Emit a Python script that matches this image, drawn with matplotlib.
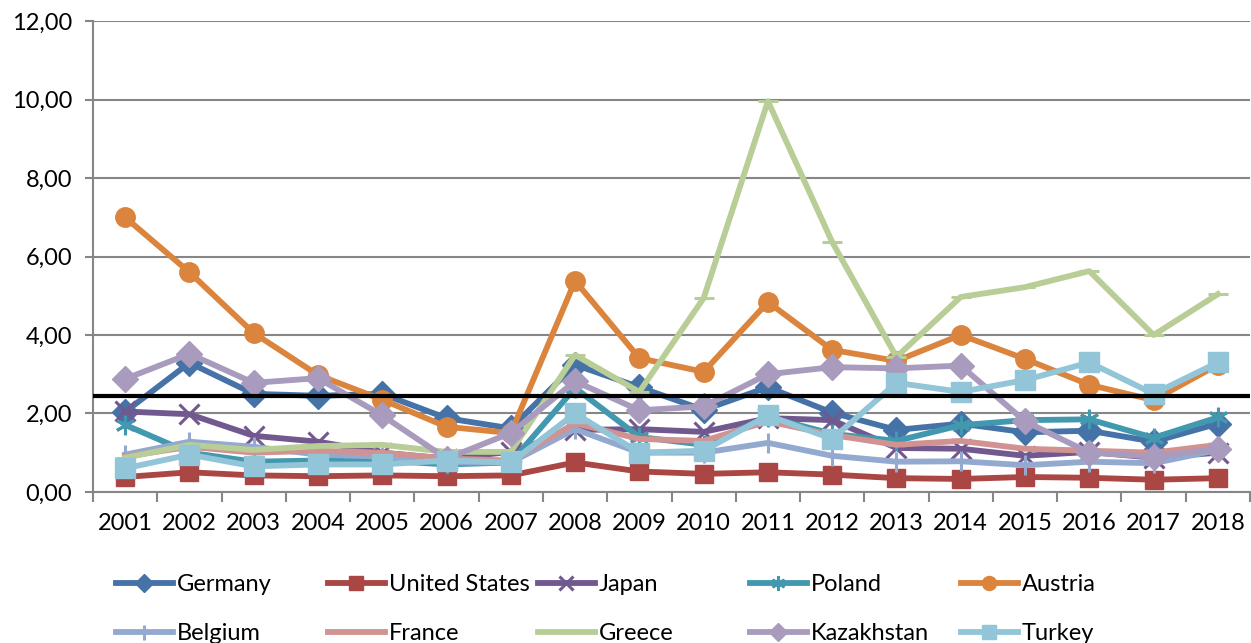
import matplotlib.pyplot as plt
from matplotlib.ticker import FixedLocator, FuncFormatter

plt.rcParams['font.family'] = ['Lato', 'DejaVu Sans']

years = [str(y) for y in range(2001, 2019)]

germany = [2.04, 3.29, 2.50, 2.45, 2.50, 1.88, 1.62, 3.24, 2.67, 2.09, 2.67, 2.02, 1.58, 1.74, 1.52, 1.56, 1.28, 1.74]
united_states = [0.38, 0.50, 0.42, 0.40, 0.42, 0.40, 0.42, 0.75, 0.52, 0.46, 0.50, 0.44, 0.35, 0.33, 0.38, 0.36, 0.31, 0.35]
japan = [2.05, 1.98, 1.43, 1.28, 1.00, 0.85, 1.02, 1.58, 1.60, 1.53, 1.88, 1.83, 1.12, 1.10, 0.92, 1.02, 0.87, 1.00]
poland = [1.71, 1.00, 0.77, 0.80, 0.80, 0.70, 0.75, 2.65, 1.40, 1.20, 1.91, 1.48, 1.30, 1.70, 1.83, 1.85, 1.38, 1.90]
austria = [7.00, 5.60, 4.05, 2.98, 2.35, 1.66, 1.50, 5.38, 3.41, 3.06, 4.84, 3.62, 3.34, 4.00, 3.39, 2.73, 2.34, 3.24]
belgium = [0.95, 1.28, 1.15, 0.95, 0.90, 0.75, 0.75, 1.60, 1.00, 1.00, 1.25, 0.92, 0.77, 0.78, 0.68, 0.77, 0.73, 1.07]
france = [0.90, 1.15, 1.00, 1.05, 1.00, 0.85, 0.80, 1.75, 1.35, 1.30, 1.80, 1.45, 1.20, 1.30, 1.10, 1.05, 1.00, 1.20]
greece = [0.87, 1.20, 1.07, 1.17, 1.20, 1.02, 1.02, 3.49, 2.55, 4.94, 9.96, 6.37, 3.44, 4.97, 5.22, 5.63, 4.00, 5.04]
kazakhstan = [2.88, 3.52, 2.78, 2.90, 1.95, 0.85, 1.50, 2.82, 2.08, 2.18, 3.00, 3.18, 3.15, 3.22, 1.80, 1.00, 0.90, 1.10]
turkey = [0.60, 0.95, 0.65, 0.70, 0.70, 0.80, 0.75, 2.00, 1.00, 1.05, 1.95, 1.35, 2.78, 2.55, 2.85, 3.30, 2.50, 3.30]
threshold = 2.45

series = [
    ("Germany", germany, "#4572A7", "D", 13),
    ("United States", united_states, "#AA4643", "s", 13.5),
    ("Japan", japan, "#71588F", "x", 14),
    ("Poland", poland, "#4198AF", (6, 2, 0), 14),
    ("Austria", austria, "#DB843D", "o", 14),
    ("Belgium", belgium, "#93A9CF", "|", 15),
    ("France", france, "#D19392", "None", 10),
    ("Greece", greece, "#B9CD96", "_", 15),
    ("Kazakhstan", kazakhstan, "#A99BBD", "D", 13),
    ("Turkey", turkey, "#92C5D8", "s", 14),
]

fig = plt.figure(figsize=(12.51, 6.43), dpi=100)
ax = fig.add_axes([93 / 1251, 0.235, 1157 / 1251, 0.732])

x = list(range(len(years)))
handles = []
for name, vals, col, mk, ms in series:
    h, = ax.plot(x, vals, color=col, lw=4.2, marker=mk, markersize=ms,
                 markeredgewidth=2.2 if mk in ("x", "|", "_", (6, 2, 0)) else 1,
                 markeredgecolor=col, markerfacecolor=col, label=name, zorder=3)
    handles.append(h)

ax.axhline(threshold, color="black", lw=3, zorder=5)

ax.set_xlim(-0.5, len(years) - 0.5)
ax.set_ylim(0, 12)
ax.set_yticks([0, 2, 4, 6, 8, 10, 12])
ax.yaxis.set_major_formatter(FuncFormatter(lambda v, p: f"{v:.2f}".replace(".", ",")))
ax.grid(axis="y", color="#868686", lw=1.5, zorder=0)

ax.xaxis.set_major_locator(FixedLocator([i - 0.5 for i in range(len(years) + 1)]))
ax.xaxis.set_minor_locator(FixedLocator(x))
ax.xaxis.set_major_formatter(FuncFormatter(lambda v, p: ""))
ax.set_xticklabels(years, minor=True)
ax.tick_params(axis="x", which="major", length=7, width=1.5, color="#868686")
ax.tick_params(axis="x", which="minor", length=0, labelsize=17, pad=15)
ax.tick_params(axis="y", length=6, width=1.5, color="#868686", labelsize=17, pad=9)

for s in ["top", "right"]:
    ax.spines[s].set_visible(False)
for s in ["left", "bottom"]:
    ax.spines[s].set_color("#868686")
    ax.spines[s].set_linewidth(1.5)

# legend: 5 fixed-width columns, 2 rows (second row partly cut off)
col_x = [116, 328, 538, 750, 961]
for i in range(5):
    leg = fig.legend([handles[i], handles[i + 5]], [series[i][0], series[i + 5][0]],
                     loc="upper left", bbox_to_anchor=(col_x[i] / 1251, 1 - 574 / 643),
                     frameon=False, fontsize=17, handlelength=2.4, handletextpad=0.17,
                     labelspacing=1.2, borderaxespad=0, borderpad=0, markerscale=0.72)

fig.savefig("out.png", dpi=100)
